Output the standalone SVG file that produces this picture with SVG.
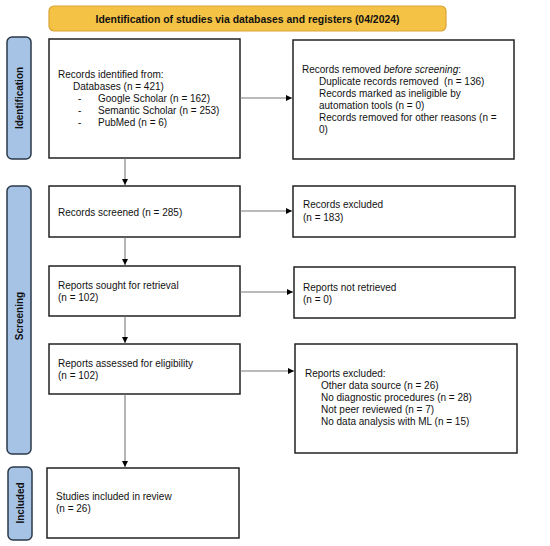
<svg xmlns="http://www.w3.org/2000/svg" width="550" height="546" viewBox="0 0 550 546">
<defs>
<marker id="ah" viewBox="0 0 10 10" refX="10" refY="5" markerWidth="6" markerHeight="6" markerUnits="userSpaceOnUse" orient="auto">
<path d="M0,0 L10,5 L0,10 z" fill="#000"/>
</marker>
<style>
.box{fill:#fff;stroke:#222;stroke-width:1.5}
.side{fill:#a6c3e6;stroke:#2b3a4a;stroke-width:1.5}
.ban{fill:#f4c245;stroke:#d9a336;stroke-width:1.2}
text{font-family:"Liberation Sans",Arial,sans-serif;font-size:10px;fill:#111}
.b{font-weight:bold}
.sl{font-weight:bold;font-size:10px;text-anchor:middle}
.c{fill:none;stroke:#777;stroke-width:1.1;marker-end:url(#ah)}
</style>
</defs>
<rect width="550" height="546" fill="#fff"/>
<g id="banner">
<rect class="ban" x="49" y="6" width="397" height="25" rx="5"/>
<text class="b" x="247.5" y="22.5" text-anchor="middle" textLength="304" lengthAdjust="spacingAndGlyphs">Identification of studies via databases and registers (04/2024)</text>
</g>
<g id="label-identification">
<rect class="side" x="7" y="37" width="24" height="122" rx="5"/>
<text class="sl" transform="translate(22.5,98) rotate(-90)">Identification</text>
</g>
<g id="label-screening">
<rect class="side" x="7" y="186" width="24" height="268" rx="5"/>
<text class="sl" transform="translate(22.5,316) rotate(-90)">Screening</text>
</g>
<g id="label-included">
<rect class="side" x="8" y="467" width="24" height="73" rx="5"/>
<text class="sl" transform="translate(23.5,503) rotate(-90)">Included</text>
</g>
<g id="records-identified">
<rect class="box" x="49" y="39" width="191" height="119"/>
<text x="58" y="77.5">Records identified from:</text>
<text x="73" y="89.5">Databases (n = 421)</text>
<text x="78" y="101.5">-</text><text x="98" y="101.5">Google Scholar (n = 162)</text>
<text x="78" y="113.5">-</text><text x="98" y="113.5">Semantic Scholar (n = 253)</text>
<text x="78" y="125.5">-</text><text x="98" y="125.5">PubMed (n = 6)</text>
</g>
<g id="records-removed">
<rect class="box" x="293" y="40" width="221" height="119"/>
<text x="302" y="72.5">Records removed <tspan font-style="italic">before screening</tspan>:</text>
<text x="319" y="84.5" xml:space="preserve">Duplicate records removed  (n = 136)</text>
<text x="319" y="96.5">Records marked as ineligible by</text>
<text x="319" y="108.5">automation tools (n = 0)</text>
<text x="319" y="120.5">Records removed for other reasons (n =</text>
<text x="319" y="132.5">0)</text>
</g>
<g id="records-screened">
<rect class="box" x="49" y="186" width="191" height="51"/>
<text x="58" y="216">Records screened (n = 285)</text>
</g>
<g id="records-excluded">
<rect class="box" x="293" y="186" width="222" height="51"/>
<text x="303" y="208">Records excluded</text>
<text x="303" y="221">(n = 183)</text>
</g>
<g id="reports-sought">
<rect class="box" x="49" y="266" width="191" height="50"/>
<text x="58" y="289">Reports sought for retrieval</text>
<text x="58" y="301">(n = 102)</text>
</g>
<g id="reports-not-retrieved">
<rect class="box" x="294" y="267" width="221" height="51"/>
<text x="303" y="291">Reports not retrieved</text>
<text x="303" y="303">(n = 0)</text>
</g>
<g id="reports-assessed">
<rect class="box" x="49" y="344" width="191" height="50"/>
<text x="58" y="367">Reports assessed for eligibility</text>
<text x="58" y="379">(n = 102)</text>
</g>
<g id="reports-excluded">
<rect class="box" x="295" y="344" width="222" height="109"/>
<text x="305" y="377">Reports excluded:</text>
<text x="321" y="389">Other data source (n = 26)</text>
<text x="321" y="401">No diagnostic procedures (n = 28)</text>
<text x="321" y="413">Not peer reviewed (n = 7)</text>
<text x="321" y="425">No data analysis with ML (n = 15)</text>
</g>
<g id="studies-included">
<rect class="box" x="47" y="468" width="192" height="70"/>
<text x="56" y="500">Studies included in review</text>
<text x="56" y="512">(n = 26)</text>
</g>
<g id="connectors">
<line class="c" x1="240" y1="98" x2="292" y2="98"/>
<line class="c" x1="125" y1="158" x2="125" y2="185"/>
<line class="c" x1="240" y1="211" x2="292" y2="211"/>
<line class="c" x1="125" y1="237" x2="125" y2="265"/>
<line class="c" x1="240" y1="292" x2="293" y2="292"/>
<line class="c" x1="125" y1="316" x2="125" y2="343"/>
<line class="c" x1="240" y1="371" x2="294" y2="371"/>
<line class="c" x1="125" y1="394" x2="125" y2="467"/>
</g>
</svg>
